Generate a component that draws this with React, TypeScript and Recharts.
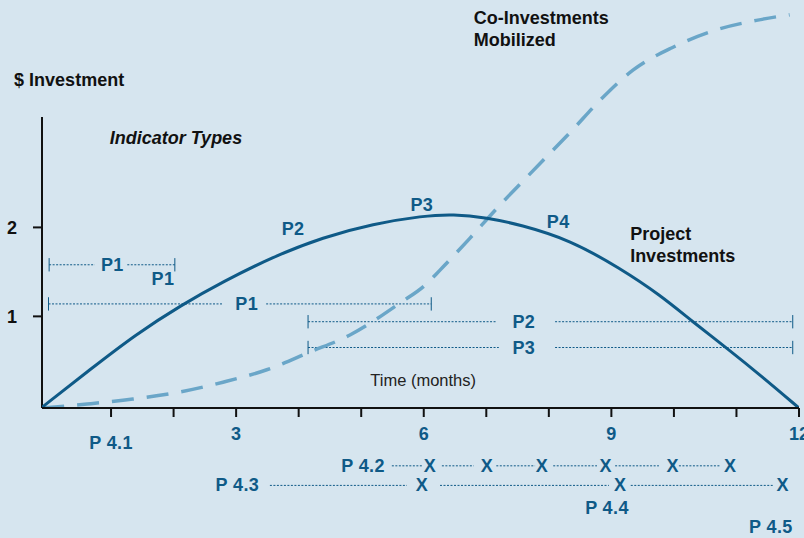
import React from 'react';
import {
  LineChart,
  Line,
  XAxis,
  YAxis,
  ReferenceLine,
  ReferenceDot
} from 'recharts';

// project investments curve (months, $)
const projectMonths = [-0.1, 0.66, 1.4, 2.13, 2.79, 3.59, 4.39, 5.19, 5.99, 6.47, 7.01, 7.54, 8.34, 9.14, 9.78, 10.3, 10.85, 11.38, 12];
const projectValues = [-0.02, 0.4, 0.8, 1.13, 1.39, 1.67, 1.89, 2.04, 2.13, 2.15, 2.11, 2.03, 1.86, 1.54, 1.24, 0.94, 0.64, 0.34, -0.03];

// co-investments mobilized curve
const coInvMonths = [-0.1, 0.62, 1.35, 2.1, 2.79, 3.49, 4.18, 4.82, 5.62, 6.02, 6.26, 6.74, 7.19, 7.89, 8.37, 8.82, 9.35, 9.97, 10.63, 11.34, 11.85];
const coInvValues = [-0.03, 0.015, 0.07, 0.15, 0.26, 0.4, 0.6, 0.79, 1.15, 1.35, 1.52, 1.88, 2.23, 2.74, 3.09, 3.43, 3.77, 4.02, 4.21, 4.33, 4.39];

const monthTicks = [1, 2, 3, 4, 5, 6, 7, 8, 9, 10, 11, 12];
const labelledMonths = [3, 6, 9, 12];
const valueTicks = [1, 2];

// indicator brackets: [level, from, to]
const indicatorSpans = [
  [1.58, 0.01, 0.74], [1.58, 1.26, 2.02],
  [1.14, 0, 2.79], [1.14, 3.48, 6.12],
  [0.94, 4.15, 7.17], [0.94, 8.1, 11.9],
  [0.65, 4.15, 7.2], [0.65, 8.1, 11.9]
];
const bracketEnds = [
  [0.01, 1.58], [2.02, 1.58], [0, 1.14], [6.12, 1.14],
  [4.15, 0.94], [11.9, 0.94], [4.15, 0.65], [11.9, 0.65]
];

// milestone rows below the axis
const p42Row = -0.68;
const p43Row = -0.9;
const p42Spans = [[5.49, 5.97], [6.29, 6.8], [7.16, 7.78], [8.07, 8.77], [9.06, 9.76], [10.08, 10.74]];
const p43Spans = [[3.54, 5.73], [6.26, 8.96], [9.31, 11.58]];
const p42Marks = [6.1, 7.01, 7.89, 8.91, 9.98, 10.9];
const p43Marks = [5.97, 9.14, 11.74];

// text notes: [text, month, value, kind]
const notes: [string, number, number, string][] = [
  ['$ Investment', -0.55, 3.66, 'title'],
  ['Indicator Types', 0.98, 3.0, 'italic'],
  ['Co-Investments', 6.8, 4.35, 'title'],
  ['Mobilized', 6.8, 4.11, 'title'],
  ['Project', 9.3, 1.93, 'title'],
  ['Investments', 9.3, 1.68, 'title'],
  ['Time (months)', 5.99, 0.285, 'plain'],
  ['P2', 3.91, 1.98, 'blue'],
  ['P3', 5.97, 2.25, 'blue'],
  ['P4', 8.15, 2.06, 'blue'],
  ['P1', 1.02, 1.58, 'blue'],
  ['P1', 1.83, 1.42, 'blue'],
  ['P1', 3.17, 1.14, 'blue'],
  ['P2', 7.6, 0.94, 'blue'],
  ['P3', 7.6, 0.65, 'blue'],
  ['P 4.1', 1.0, -0.42, 'blue'],
  ['P 4.2', 5.03, p42Row, 'blue'],
  ['P 4.3', 3.02, p43Row, 'blue'],
  ['P 4.4', 8.93, -1.15, 'blue'],
  ['P 4.5', 11.55, -1.37, 'blue']
];

const BLUE = '#0f5a87';
const LIGHT = '#6aa6c8';
const FONT = '"Liberation Sans", Arial, sans-serif';

const projectData = projectMonths.map((m, i) => ({ month: m, value: projectValues[i] }));
const coInvData = coInvMonths.map((m, i) => ({ month: m, value: coInvValues[i] }));

const noteContent = (text: string, kind: string) => (props: any) => {
  const vb = props.viewBox || {};
  const cx = vb.x + (vb.width || 0) / 2;
  const cy = vb.y + (vb.height || 0) / 2;
  const left = kind === 'title' || kind === 'italic';
  return (
    <text
      x={cx}
      y={cy}
      textAnchor={left ? 'start' : 'middle'}
      dominantBaseline="central"
      fontFamily={FONT}
      fontSize={kind === 'plain' ? 16.5 : 18}
      fontWeight={kind === 'plain' ? 400 : 700}
      fontStyle={kind === 'italic' ? 'italic' : 'normal'}
      letterSpacing={kind === 'blue' ? 0.4 : 0}
      fill={kind === 'blue' ? BLUE : kind === 'plain' ? '#222' : '#111'}
    >
      {text}
    </text>
  );
};

const dotted = (key: string, y: number, a: number, b: number) => (
  <ReferenceLine
    key={key}
    segment={[{ x: a, y }, { x: b, y }]}
    stroke={BLUE}
    strokeWidth={1}
    strokeDasharray="2 1.5"
    ifOverflow="visible"
  />
);

const point = (key: string, text: string, x: number, y: number, kind: string) => (
  <ReferenceDot
    key={key}
    x={x}
    y={y}
    r={1}
    fill="none"
    stroke="none"
    ifOverflow="visible"
    label={{ content: noteContent(text, kind) }}
  />
);

export default function App() {
  return (
    <div style={{ position: 'absolute', left: 0, top: 0, width: 804, height: 538, background: '#d6e5ef', overflow: 'hidden' }}>
      <LineChart width={804} height={538} margin={{ top: 5, right: 5, bottom: 100, left: 0 }}>
        <XAxis
          type="number"
          dataKey="month"
          domain={[-0.104, 12]}
          allowDataOverflow
          ticks={monthTicks}
          interval={0}
          tickFormatter={(v: number) => (labelledMonths.includes(v) ? String(v) : '')}
          height={30}
          tickSize={9}
          tickMargin={10}
          axisLine={{ stroke: '#111', strokeWidth: 2 }}
          tickLine={{ stroke: '#111', strokeWidth: 2 }}
          tick={{ fill: BLUE, fontSize: 18, fontWeight: 700, fontFamily: FONT }}
        />
        <YAxis
          type="number"
          domain={[-0.03, 4.5]}
          allowDataOverflow
          ticks={valueTicks}
          interval={0}
          width={42}
          tickSize={9}
          tickMargin={16}
          axisLine={false}
          tickLine={{ stroke: '#111', strokeWidth: 2 }}
          tick={{ fill: '#111', fontSize: 18, fontWeight: 700, fontFamily: FONT }}
        />
        <ReferenceLine
          segment={[{ x: -0.104, y: -0.03 }, { x: -0.104, y: 3.24 }]}
          stroke="#111"
          strokeWidth={2}
          ifOverflow="visible"
        />
        {indicatorSpans.map(([y, a, b], i) => dotted(`is${i}`, y, a, b))}
        {bracketEnds.map(([x, y], i) => (
          <ReferenceLine
            key={`be${i}`}
            segment={[{ x, y: y - 0.075 }, { x, y: y + 0.075 }]}
            stroke={BLUE}
            strokeWidth={1}
            ifOverflow="visible"
          />
        ))}
        {p42Spans.map(([a, b], i) => dotted(`p42${i}`, p42Row, a, b))}
        {p43Spans.map(([a, b], i) => dotted(`p43${i}`, p43Row, a, b))}
        {p42Marks.map((m, i) => point(`x42${i}`, 'X', m, p42Row, 'blue'))}
        {p43Marks.map((m, i) => point(`x43${i}`, 'X', m, p43Row, 'blue'))}
        {notes.map(([t, x, y, k], i) => point(`n${i}`, t, x, y, k))}
        <Line
          data={coInvData}
          dataKey="value"
          type="monotone"
          stroke={LIGHT}
          strokeWidth={3.5}
          strokeDasharray="22 13"
          dot={false}
          isAnimationActive={false}
        />
        <Line
          data={projectData}
          dataKey="value"
          type="basis"
          stroke={BLUE}
          strokeWidth={3}
          dot={false}
          isAnimationActive={false}
        />
      </LineChart>
    </div>
  );
}
